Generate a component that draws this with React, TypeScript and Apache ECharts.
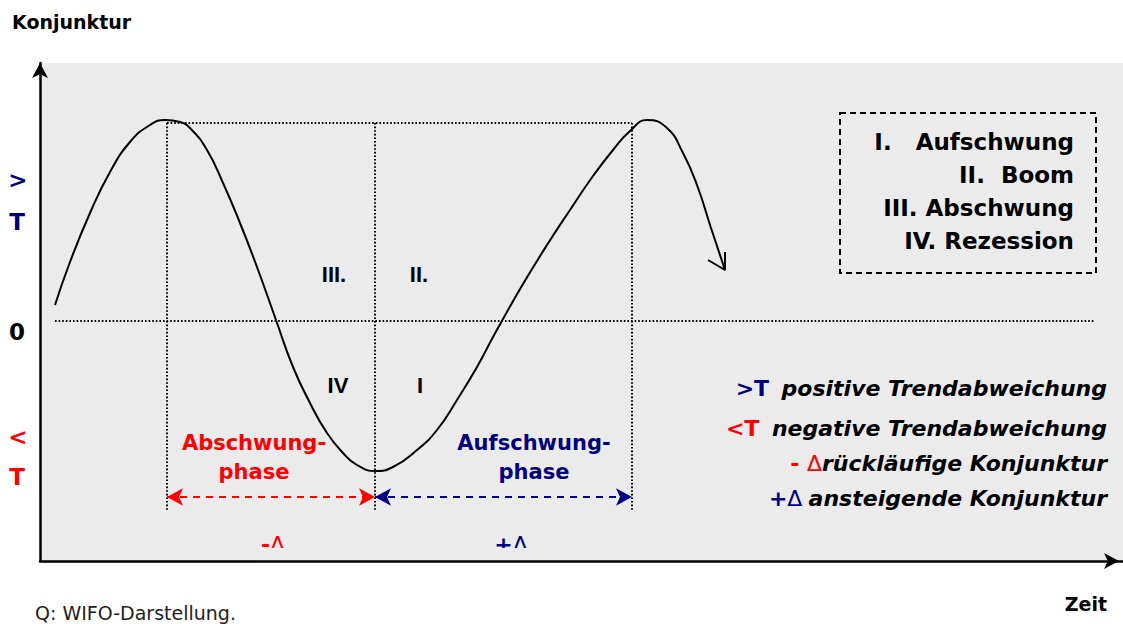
import React, { useEffect, useRef } from "react";
import * as echarts from "echarts";

// Business cycle curve (x: time units, y: deviation from trend)
const cycleX = [1.5, 3.0, 5.0, 7.0, 9.0, 11.0, 12.5, 14.0, 15.0, 16.7, 18.3, 20.0, 21.7, 23.6, 25.3, 27.0, 28.7, 30.3, 31.7, 33.5, 35.3, 37.7, 39.7, 41.7, 43.7, 45.3, 46.3, 48.3, 50.7, 53.0, 55.3, 57.3, 59.0, 60.7, 62.7, 64.3, 65.7, 67.1, 68.5];
const cycleY = [1.6, 5.9, 10.8, 14.9, 17.9, 19.6, 20.1, 19.9, 19.3, 17.1, 13.8, 9.8, 5.4, 0.1, -4.6, -8.2, -11.2, -13.2, -14.4, -15.0, -14.6, -12.9, -10.9, -7.9, -4.6, -1.6, 0.2, 3.7, 7.6, 11.1, 14.5, 17.1, 19.0, 20.1, 19.3, 16.8, 13.6, 9.3, 5.1];
const arrowHeadX = [66.8, 68.5, 68.5];
const arrowHeadY = [6.1, 5.1, 6.9];

// reference lines
const peakLevel = 19.8;
const phaseBounds = [12.7, 33.5, 59.2];
const guideBottom = -18.9;
const zeroLineRange = [1.5, 105.5];
const phaseArrowLevel = -17.6;

const xMin = 0;
const xMax = 108.3;
const yMin = -24;
const yMax = 25.8;

const legendLines = ["I.   Aufschwung", "II.  Boom", "III. Abschwung", "IV. Rezession"];
const quadrantLabels = ["III.", "II.", "IV", "I"];

const NAVY = "#000080";
const RED = "#ff0000";
const FONT = "DejaVu Sans";

export default function App() {
  const ref = useRef<HTMLDivElement>(null);
  useEffect(() => {
    document.body.style.margin = "0";
    const chart = echarts.init(ref.current!, null, { renderer: "svg" });
    const curve = cycleX.map((x, i) => [x, cycleY[i]]);
    const head = arrowHeadX.map((x, i) => [x, arrowHeadY[i]]);
    const dotted = { color: "#000", width: 2, type: [1.6, 2] as any };
    const guides: any[] = [
      { x: phaseBounds[0], y: peakLevel, x2: phaseBounds[2], y2: peakLevel },
      { x: zeroLineRange[0], y: 0, x2: zeroLineRange[1], y2: 0 },
      ...phaseBounds.map((b) => ({ x: b, y: peakLevel, x2: b, y2: guideBottom })),
    ];
    const guideSeries = guides.map((g) => ({
      type: "line",
      data: [
        [g.x, g.y],
        [g.x2, g.y2],
      ],
      symbol: "none",
      lineStyle: dotted,
      silent: true,
      z: 1,
    }));
    const txt = (x: number, y: number, text: string, o: any = {}) => ({
      type: "text",
      x,
      y,
      style: {
        text,
        font: o.font || `bold 18px "${FONT}"`,
        fill: o.fill || "#000",
        align: o.align || "center",
        verticalAlign: "middle",
        rich: o.rich,
      },
      z: 10,
    });
    const rf = (c: string, italic = false, weight = "bold") => ({
      fontFamily: FONT,
      fontWeight: weight,
      fontStyle: italic ? "italic" : "normal",
      fontSize: 22,
      fill: c,
      color: c,
    });
    const qFont = `bold 22px "Liberation Sans"`;
    const sideFont = `bold 23px "${FONT}"`;
    chart.setOption({
      animation: false,
      grid: {
        left: 40,
        top: 63,
        right: 0,
        bottom: 63,
        show: true,
        backgroundColor: "#ebebeb",
        borderWidth: 0,
      },
      xAxis: {
        type: "value",
        min: xMin,
        max: xMax,
        splitLine: { show: false },
        axisTick: { show: false },
        axisLabel: { show: false },
        axisLine: {
          onZero: false,
          lineStyle: { color: "#000", width: 2.5 },
          symbol: ["none", "arrow"],
          symbolSize: [12, 15],
          symbolOffset: [0, -4],
        },
      },
      yAxis: {
        type: "value",
        min: yMin,
        max: yMax,
        splitLine: { show: false },
        axisTick: { show: false },
        axisLabel: { show: false },
        axisLine: {
          onZero: false,
          lineStyle: { color: "#000", width: 2.5 },
          symbol: ["none", "arrow"],
          symbolSize: [12, 15],
          symbolOffset: [0, 0],
        },
      },
      series: [
        ...guideSeries,
        {
          type: "line",
          data: curve,
          smooth: 0.5,
          symbol: "none",
          lineStyle: { color: "#000", width: 2 },
          z: 3,
        },
        {
          type: "line",
          data: head,
          symbol: "none",
          lineStyle: { color: "#000", width: 2 },
          z: 3,
        },
        {
          type: "line",
          data: [],
          symbol: "none",
          markLine: {
            silent: true,
            symbol: ["arrow", "arrow"],
            symbolSize: [13, 16],
            label: { show: false },
            data: [
              [
                { coord: [phaseBounds[0], phaseArrowLevel], lineStyle: { color: RED, type: [7, 6], width: 2 }, itemStyle: { color: RED } },
                { coord: [phaseBounds[1], phaseArrowLevel] },
              ],
              [
                { coord: [phaseBounds[1], phaseArrowLevel], lineStyle: { color: NAVY, type: [7, 6], width: 2 }, itemStyle: { color: NAVY } },
                { coord: [phaseBounds[2], phaseArrowLevel] },
              ],
            ],
          },
        },
      ],
      graphic: [
        txt(12, 22, "Konjunktur", { align: "left", font: `bold 19px "${FONT}"` }),
        txt(18, 180, ">", { fill: NAVY, font: sideFont }),
        txt(17, 222, "T", { fill: NAVY, font: sideFont }),
        txt(17, 332, "0", { font: sideFont }),
        txt(18, 437, "<", { fill: RED, font: sideFont }),
        txt(17, 477, "T", { fill: RED, font: sideFont }),
        txt(334, 274, quadrantLabels[0], { font: qFont }),
        txt(419, 274, quadrantLabels[1], { font: qFont }),
        txt(338, 385, quadrantLabels[2], { font: qFont }),
        txt(420, 385, quadrantLabels[3], { font: qFont }),
        txt(254, 443, "Abschwung-", { fill: RED, font: `bold 21px "${FONT}"` }),
        txt(254, 472, "phase", { fill: RED, font: `bold 21px "${FONT}"` }),
        txt(534, 443, "Aufschwung-", { fill: NAVY, font: `bold 21px "${FONT}"` }),
        txt(534, 472, "phase", { fill: NAVY, font: `bold 21px "${FONT}"` }),
        txt(273, 544, "{a|-}{b|Δ}", {
          rich: { a: { ...rf(RED), fontSize: 22 }, b: { ...rf(RED, false, "normal"), fontSize: 22 } },
        }),
        txt(511, 544, "{a|+}{b|Δ}", {
          rich: { a: { ...rf(NAVY), fontSize: 22 }, b: { ...rf(NAVY, false, "normal"), fontSize: 22 } },
        }),
        {
          type: "rect",
          shape: { x: 240, y: 548, width: 320, height: 11 },
          style: { fill: "#ebebeb" },
          z: 11,
        },
        {
          type: "rect",
          shape: { x: 840, y: 113, width: 256, height: 160 },
          style: { fill: "none", stroke: "#000", lineWidth: 2, lineDash: [6, 4] },
          z: 10,
        },
        ...legendLines.map((l, i) => txt(1074, 142 + i * 33, l, { align: "right", font: `bold 23px "${FONT}"` })),
        txt(1107, 388, "{a|>T}  {b|positive Trendabweichung}", {
          align: "right",
          rich: { a: rf(NAVY), b: rf("#000", true) },
        }),
        txt(1107, 428, "{a|<T}  {b|negative Trendabweichung}", {
          align: "right",
          rich: { a: rf(RED), b: rf("#000", true) },
        }),
        txt(1107, 463, "{a|- }{c|Δ}{b|rückläufige Konjunktur}", {
          align: "right",
          rich: { a: rf(RED), c: rf(RED, false, "normal"), b: rf("#000", true) },
        }),
        txt(1107, 498, "{a|+}{c|Δ} {b|ansteigende Konjunktur}", {
          align: "right",
          rich: { a: rf(NAVY), c: rf(NAVY, false, "normal"), b: rf("#000", true) },
        }),
        txt(35, 613, "Q: WIFO-Darstellung.", { align: "left", fill: "#222", font: `19px "${FONT}"` }),
        txt(1107, 604, "Zeit", { align: "right", font: `bold 19px "${FONT}"` }),
      ],
    });
    return () => chart.dispose();
  }, []);
  return <div ref={ref} style={{ width: 1123, height: 624, position: "absolute", left: 0, top: 0 }} />;
}
